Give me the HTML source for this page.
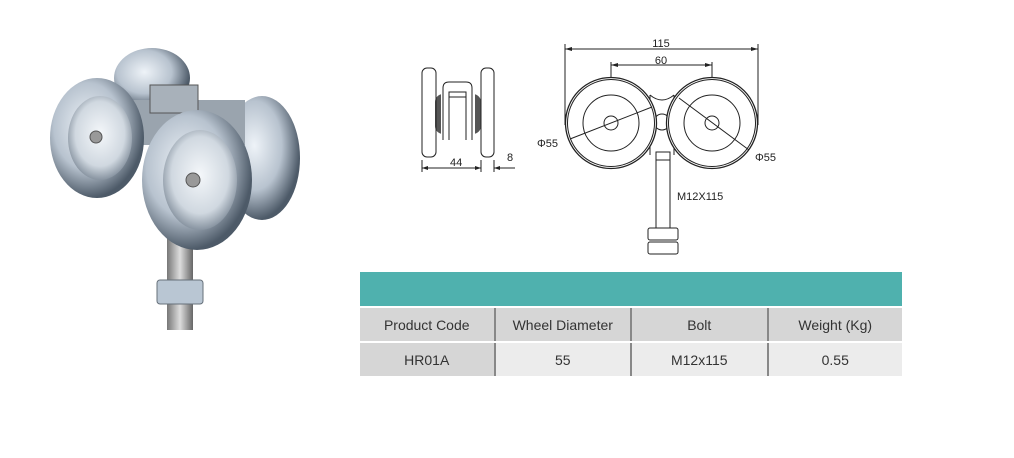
<!DOCTYPE html>
<html><head><meta charset="utf-8"><style>
html,body{margin:0;padding:0;background:#fff;}
body{width:1014px;height:458px;position:relative;overflow:hidden;font-family:"Liberation Sans",sans-serif;}
.t{position:absolute;left:360px;top:272px;width:542px;}
.hd{height:34px;background:#4fb1ae;}
.row{display:flex;height:33px;margin-top:2px;}
.row div{display:flex;align-items:center;justify-content:center;font-size:14px;color:#333;border-right:2px solid #888;}
.row div:last-child{border-right:none;}
.r1 div{background:#d6d6d6;}
.r2 div{background:#ececec;}
.r2 div:first-child{background:#d6d6d6;}
</style></head><body>
<svg width="1014" height="458" style="position:absolute;left:0;top:0">
<defs>
<radialGradient id="m" cx="40%" cy="40%" r="60%"><stop offset="0" stop-color="#eef3f8"/><stop offset="0.6" stop-color="#b8c3cf"/><stop offset="1" stop-color="#4d5a68"/></radialGradient>
<radialGradient id="m2" cx="50%" cy="45%" r="55%"><stop offset="0" stop-color="#f4f7fa"/><stop offset="0.7" stop-color="#d0d8e0"/><stop offset="1" stop-color="#8793a0"/></radialGradient>
<linearGradient id="b" x1="0" x2="1"><stop offset="0" stop-color="#777"/><stop offset="0.5" stop-color="#ddd"/><stop offset="1" stop-color="#666"/></linearGradient>
</defs>
<!-- photo -->
<rect x="167" y="235" width="26" height="95" fill="url(#b)"/>
<rect x="157" y="280" width="46" height="24" rx="3" fill="#b9c6d3" stroke="#66707a"/>
<ellipse cx="152" cy="78" rx="38" ry="30" fill="url(#m)"/>
<ellipse cx="262" cy="158" rx="38" ry="62" fill="url(#m)"/>
<rect x="125" y="100" width="120" height="45" fill="#9aa4ae"/>
<rect x="150" y="85" width="48" height="28" fill="#a8b1ba" stroke="#555"/>
<ellipse cx="97" cy="138" rx="47" ry="60" fill="url(#m)"/>
<ellipse cx="100" cy="138" rx="32" ry="42" fill="url(#m2)"/>
<circle cx="96" cy="137" r="6" fill="#999" stroke="#555"/>
<ellipse cx="197" cy="180" rx="55" ry="70" fill="url(#m)"/>
<ellipse cx="200" cy="180" rx="37" ry="50" fill="url(#m2)"/>
<circle cx="193" cy="180" r="7" fill="#999" stroke="#555"/>
<!-- side view -->
<rect x="435" y="94" width="46" height="40" rx="8" fill="#555"/>
<rect x="441" y="94" width="34" height="40" fill="#fff"/>
<g fill="none" stroke="#222" stroke-width="1">
<rect x="422" y="68" width="14" height="89" rx="5"/>
<rect x="481" y="68" width="13" height="89" rx="5"/>
<path d="M443 140 V88 Q443 82 449 82 H466 Q472 82 472 88 V140 M449 140 V92 H466 V140 M449 97 H466"/>
<path d="M422 160 V172 M494 160 V172 M481 160 V172 M422 168 H481 M494 168 H515 M470 168 H481" />
</g>
<path d="M422 168 l6 -2 v4z M481 168 l-6 -2 v4z M494 168 l6 -2 v4z" fill="#222"/>
<text x="450" y="166" font-size="11" fill="#222">44</text>
<text x="507" y="161" font-size="11" fill="#222">8</text>
<!-- front view -->
<g fill="none" stroke="#222" stroke-width="1">
<path d="M565 125 V44 M758 125 V44 M565 49 H758 M611 120 V62 M712 120 V62 M611 65 H712"/>
<path d="M650 95 Q662 105 674 95 M650 95 V155 M674 95 V155"/>
<circle cx="662" cy="122" r="8"/>
<rect x="656" y="152" width="14" height="76"/>
<line x1="656" y1="160" x2="670" y2="160"/>
<rect x="648" y="228" width="30" height="12" rx="2"/>
<rect x="648" y="242" width="30" height="12" rx="2"/>
</g>
<g fill="#fff" stroke="#222" stroke-width="1.3">
<circle cx="611" cy="123" r="45.5"/>
<circle cx="712" cy="123" r="45.5"/>
</g>
<g fill="none" stroke="#222" stroke-width="1">
<circle cx="611" cy="123" r="43.5"/><circle cx="712" cy="123" r="43.5"/>
<circle cx="611" cy="123" r="28"/><circle cx="712" cy="123" r="28"/>
<circle cx="611" cy="123" r="7"/><circle cx="712" cy="123" r="7"/>
<line x1="570" y1="139" x2="652" y2="107"/>
<line x1="679" y1="98" x2="749" y2="150"/>
</g>
<path d="M565 49 l7 -2 v4z M758 49 l-7 -2 v4z M611 65 l7 -2 v4z M712 65 l-7 -2 v4z" fill="#222"/>
<text x="661" y="47" font-size="11" text-anchor="middle" fill="#222">115</text>
<text x="661" y="64" font-size="11" text-anchor="middle" fill="#222">60</text>
<text x="537" y="147" font-size="11" fill="#222">Φ55</text>
<text x="755" y="161" font-size="11" fill="#222">Φ55</text>
<text x="677" y="200" font-size="11" fill="#222">M12X115</text>
</svg>
<div class="t">
<div class="hd"></div>
<div class="row r1"><div style="width:135px">Product Code</div><div style="width:136px">Wheel Diameter</div><div style="width:136px">Bolt</div><div style="width:135px">Weight (Kg)</div></div>
<div class="row r2"><div style="width:135px">HR01A</div><div style="width:136px">55</div><div style="width:136px">M12x115</div><div style="width:135px">0.55</div></div>
</div>
</body></html>
